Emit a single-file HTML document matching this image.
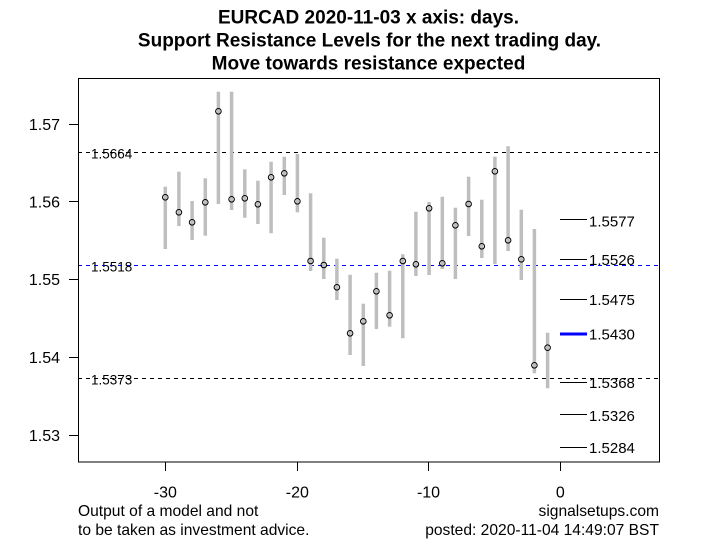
<!DOCTYPE html>
<html><head><meta charset="utf-8"><style>
html,body{margin:0;padding:0;background:#fff;}
svg{display:block;font-family:"Liberation Sans",Arial,sans-serif;}
</style></head><body>
<svg width="701" height="560" viewBox="0 0 701 560" xmlns="http://www.w3.org/2000/svg">
<rect width="701" height="560" fill="#fff"/>
<!-- title -->
<g font-weight="bold" font-size="19" text-anchor="middle" fill="#000">
<text x="368.5" y="23.5">EURCAD 2020-11-03 x axis: days.</text>
<text x="369.5" y="46.5">Support Resistance Levels for the next trading day.</text>
<text x="368.5" y="69.5">Move towards resistance expected</text>
</g>
<!-- dashed levels -->
<line x1="78" y1="152.5" x2="659" y2="152.5" stroke="#000" stroke-width="1" stroke-dasharray="4,4"/>
<line x1="78" y1="265.5" x2="659" y2="265.5" stroke="#0000ff" stroke-width="1" stroke-dasharray="4,4"/>
<line x1="78" y1="378.5" x2="659" y2="378.5" stroke="#000" stroke-width="1" stroke-dasharray="4,4"/>
<g font-size="13.5" fill="#000">
<text x="91" y="158.5">1.5664</text>
<text x="91" y="271.5">1.5518</text>
<text x="91" y="384.5">1.5373</text>
</g>
<!-- bars -->
<g stroke="#bebebe" stroke-width="3.5">
<line x1="165.3" y1="186.7" x2="165.3" y2="249"/>
<line x1="178.9" y1="171.7" x2="178.9" y2="226"/>
<line x1="192.1" y1="201" x2="192.1" y2="240"/>
<line x1="205.3" y1="178.3" x2="205.3" y2="235.7"/>
<line x1="218.4" y1="91.7" x2="218.4" y2="204"/>
<line x1="231.6" y1="91.7" x2="231.6" y2="210"/>
<line x1="244.8" y1="169.3" x2="244.8" y2="217.7"/>
<line x1="257.9" y1="180.7" x2="257.9" y2="224"/>
<line x1="271.1" y1="161.7" x2="271.1" y2="233.3"/>
<line x1="284.3" y1="156.7" x2="284.3" y2="195"/>
<line x1="297.4" y1="154" x2="297.4" y2="212.3"/>
<line x1="310.6" y1="193.3" x2="310.6" y2="271"/>
<line x1="323.8" y1="237.7" x2="323.8" y2="279"/>
<line x1="336.9" y1="258.7" x2="336.9" y2="300"/>
<line x1="350.1" y1="274.7" x2="350.1" y2="355"/>
<line x1="363.3" y1="303.7" x2="363.3" y2="366"/>
<line x1="376.4" y1="272.7" x2="376.4" y2="329"/>
<line x1="389.6" y1="270.7" x2="389.6" y2="326.7"/>
<line x1="402.8" y1="254.3" x2="402.8" y2="338.3"/>
<line x1="415.9" y1="211.7" x2="415.9" y2="276"/>
<line x1="429.1" y1="202" x2="429.1" y2="275"/>
<line x1="442.3" y1="196.7" x2="442.3" y2="269"/>
<line x1="455.4" y1="207.7" x2="455.4" y2="279"/>
<line x1="468.6" y1="176.7" x2="468.6" y2="236"/>
<line x1="481.8" y1="199.7" x2="481.8" y2="258"/>
<line x1="494.9" y1="156.7" x2="494.9" y2="264"/>
<line x1="508.1" y1="146.3" x2="508.1" y2="251"/>
<line x1="521.3" y1="209.7" x2="521.3" y2="280"/>
<line x1="534.4" y1="229" x2="534.4" y2="373.3"/>
<line x1="547.6" y1="332.7" x2="547.6" y2="388.3"/>
</g>
<g stroke="#000" stroke-width="1" fill="none">
<circle cx="165.3" cy="197.3" r="2.8"/>
<circle cx="178.9" cy="212.3" r="2.8"/>
<circle cx="192.1" cy="222.3" r="2.8"/>
<circle cx="205.3" cy="202.3" r="2.8"/>
<circle cx="218.4" cy="111.3" r="2.8"/>
<circle cx="231.6" cy="199.3" r="2.8"/>
<circle cx="244.8" cy="198.3" r="2.8"/>
<circle cx="257.9" cy="204.3" r="2.8"/>
<circle cx="271.1" cy="177.3" r="2.8"/>
<circle cx="284.3" cy="173.3" r="2.8"/>
<circle cx="297.4" cy="201.3" r="2.8"/>
<circle cx="310.6" cy="261" r="2.8"/>
<circle cx="323.8" cy="265" r="2.8"/>
<circle cx="336.9" cy="287.3" r="2.8"/>
<circle cx="350.1" cy="333.3" r="2.8"/>
<circle cx="363.3" cy="321.3" r="2.8"/>
<circle cx="376.4" cy="291.3" r="2.8"/>
<circle cx="389.6" cy="315.3" r="2.8"/>
<circle cx="402.8" cy="261" r="2.8"/>
<circle cx="415.9" cy="264.3" r="2.8"/>
<circle cx="429.1" cy="208.3" r="2.8"/>
<circle cx="442.3" cy="263.3" r="2.8"/>
<circle cx="455.4" cy="225.3" r="2.8"/>
<circle cx="468.6" cy="204" r="2.8"/>
<circle cx="481.8" cy="246.3" r="2.8"/>
<circle cx="494.9" cy="171.3" r="2.8"/>
<circle cx="508.1" cy="240.3" r="2.8"/>
<circle cx="521.3" cy="259.3" r="2.8"/>
<circle cx="534.4" cy="365.3" r="2.8"/>
<circle cx="547.6" cy="347.7" r="2.8"/>
</g>
<!-- right levels -->
<g stroke="#000" stroke-width="1">
<line x1="560" y1="219.5" x2="587" y2="219.5"/>
<line x1="560" y1="259.5" x2="587" y2="259.5"/>
<line x1="560" y1="299.5" x2="587" y2="299.5"/>
<line x1="560" y1="382.5" x2="587" y2="382.5"/>
<line x1="560" y1="414.5" x2="587" y2="414.5"/>
<line x1="560" y1="447.5" x2="587" y2="447.5"/>
</g>
<line x1="560" y1="334" x2="587" y2="334" stroke="#0000ff" stroke-width="3"/>
<g font-size="15" fill="#000">
<text x="589" y="226.5">1.5577</text>
<text x="589" y="265">1.5526</text>
<text x="589" y="305">1.5475</text>
<text x="589" y="339.5">1.5430</text>
<text x="589" y="388">1.5368</text>
<text x="589" y="421">1.5326</text>
<text x="589" y="453">1.5284</text>
</g>
<!-- box -->
<rect x="78.5" y="78.5" width="581" height="383.5" fill="none" stroke="#000" stroke-width="1"/>
<!-- axes ticks -->
<g stroke="#000" stroke-width="1">
<line x1="69" y1="124.5" x2="78" y2="124.5"/>
<line x1="69" y1="201.5" x2="78" y2="201.5"/>
<line x1="69" y1="279.5" x2="78" y2="279.5"/>
<line x1="69" y1="357.5" x2="78" y2="357.5"/>
<line x1="69" y1="435.5" x2="78" y2="435.5"/>
<line x1="165.5" y1="462" x2="165.5" y2="471"/>
<line x1="297.5" y1="462" x2="297.5" y2="471"/>
<line x1="428.5" y1="462" x2="428.5" y2="471"/>
<line x1="560.5" y1="462" x2="560.5" y2="471"/>
</g>
<g font-size="16" fill="#000" text-anchor="end">
<text x="60" y="130">1.57</text>
<text x="60" y="207.5">1.56</text>
<text x="60" y="285">1.55</text>
<text x="60" y="363">1.54</text>
<text x="60" y="441">1.53</text>
</g>
<g font-size="16" fill="#000" text-anchor="middle">
<text x="165.3" y="497.5">-30</text>
<text x="297.3" y="497.5">-20</text>
<text x="428.5" y="497.5">-10</text>
<text x="560.3" y="497.5">0</text>
</g>
<g font-size="15.6" fill="#000">
<text x="78" y="516">Output of a model and not</text>
<text x="78" y="535">to be taken as investment advice.</text>
<text x="659" y="516" text-anchor="end">signalsetups.com</text>
<text x="659" y="535" text-anchor="end">posted: 2020-11-04 14:49:07 BST</text>
</g>
</svg>
</body></html>
